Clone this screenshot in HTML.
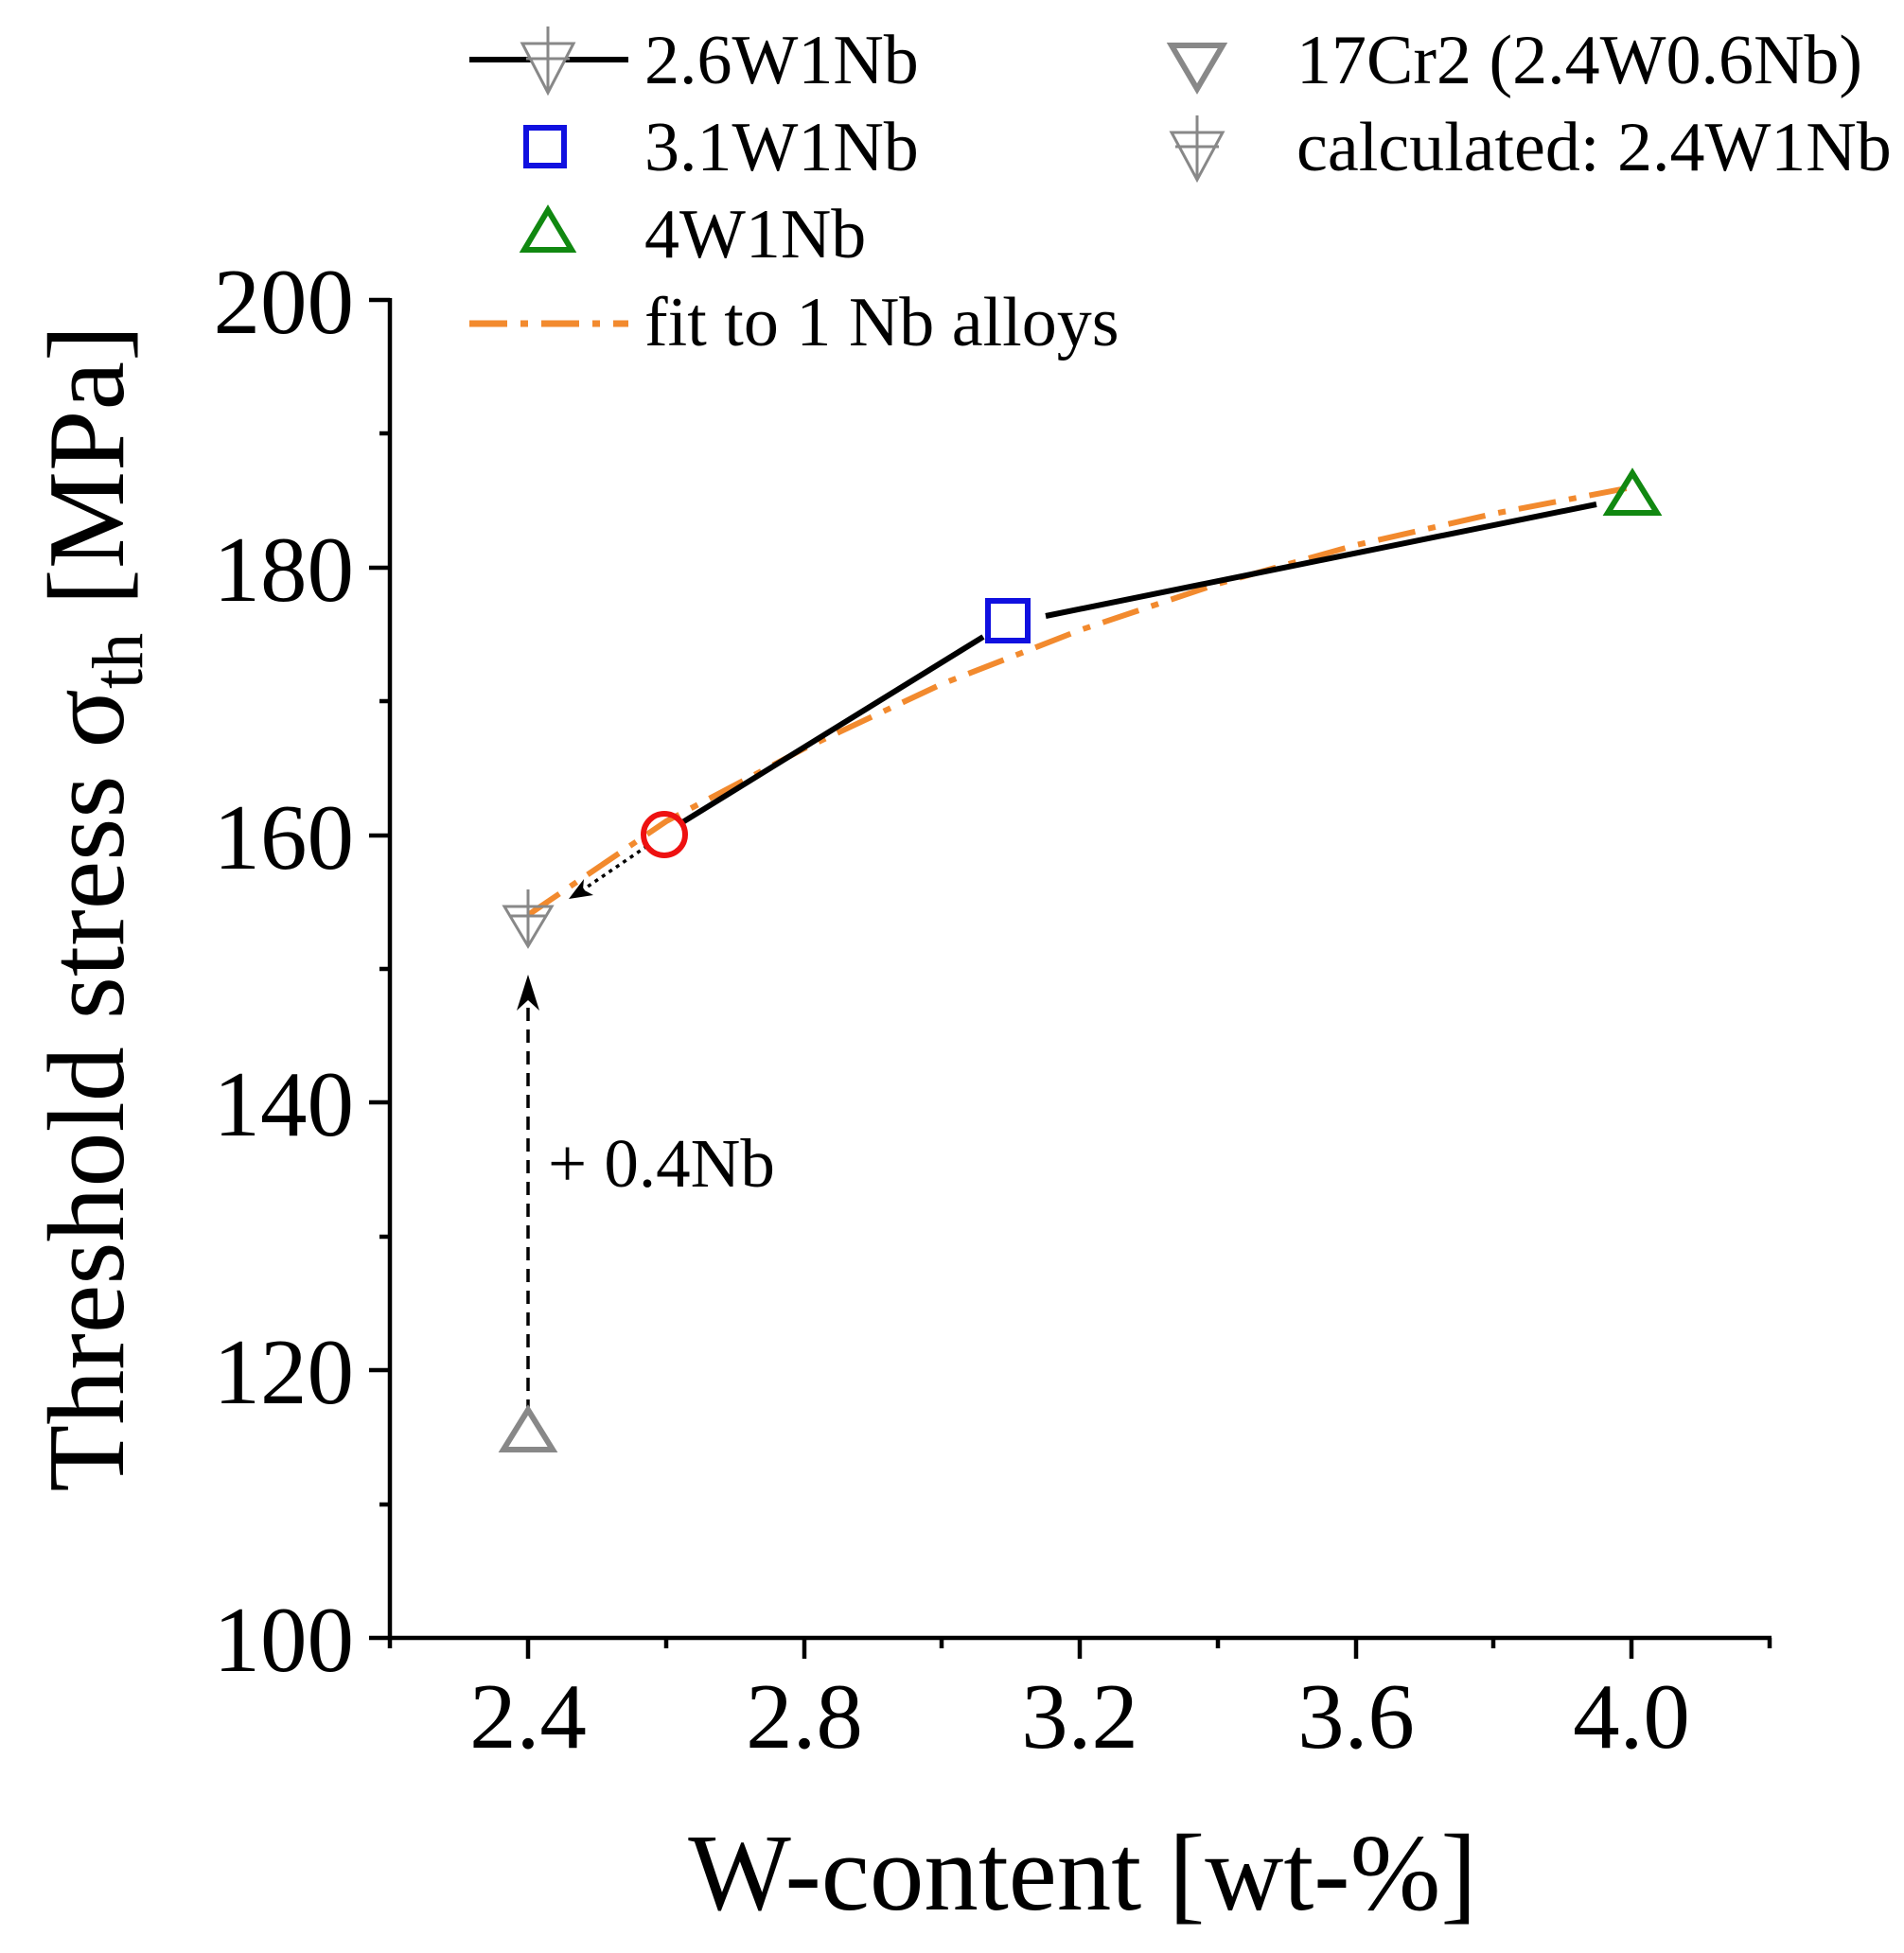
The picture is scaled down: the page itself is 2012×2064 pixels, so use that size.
<!DOCTYPE html>
<html><head><style>
html,body{margin:0;padding:0;background:#fff;}
svg{display:block;}
text{font-family:"Liberation Serif",serif;fill:#000;}
</style></head><body>
<svg width="2012" height="2064" viewBox="0 0 2012 2064" xmlns="http://www.w3.org/2000/svg">
<g stroke="#000" stroke-width="4.5" fill="none">
<line x1="412" y1="315" x2="412" y2="1733"/>
<line x1="410" y1="1731" x2="1872" y2="1731"/>
<line x1="390" y1="317" x2="412" y2="317"/>
<line x1="390" y1="600" x2="412" y2="600"/>
<line x1="390" y1="883" x2="412" y2="883"/>
<line x1="390" y1="1165" x2="412" y2="1165"/>
<line x1="390" y1="1448" x2="412" y2="1448"/>
<line x1="390" y1="1731" x2="412" y2="1731"/>
<line x1="401" y1="458" x2="412" y2="458"/>
<line x1="401" y1="741" x2="412" y2="741"/>
<line x1="401" y1="1024" x2="412" y2="1024"/>
<line x1="401" y1="1307" x2="412" y2="1307"/>
<line x1="401" y1="1590" x2="412" y2="1590"/>
<line x1="558" y1="1731" x2="558" y2="1753"/>
<line x1="850" y1="1731" x2="850" y2="1753"/>
<line x1="1141" y1="1731" x2="1141" y2="1753"/>
<line x1="1433" y1="1731" x2="1433" y2="1753"/>
<line x1="1724" y1="1731" x2="1724" y2="1753"/>
<line x1="412" y1="1731" x2="412" y2="1742"/>
<line x1="704" y1="1731" x2="704" y2="1742"/>
<line x1="995" y1="1731" x2="995" y2="1742"/>
<line x1="1287" y1="1731" x2="1287" y2="1742"/>
<line x1="1578" y1="1731" x2="1578" y2="1742"/>
<line x1="1870" y1="1731" x2="1870" y2="1742"/>
</g>
<g font-size="99" text-anchor="end">
<text x="374" y="352">200</text>
<text x="374" y="635">180</text>
<text x="374" y="918">160</text>
<text x="374" y="1200">140</text>
<text x="374" y="1483">120</text>
<text x="374" y="1766">100</text>
</g>
<g font-size="99" text-anchor="middle">
<text x="558" y="1847">2.4</text>
<text x="850" y="1847">2.8</text>
<text x="1141" y="1847">3.2</text>
<text x="1433" y="1847">3.6</text>
<text x="1724" y="1847">4.0</text>
</g>
<text x="1144" y="2018" font-size="115" text-anchor="middle">W-content [wt-%]</text>
<text transform="translate(130,960) rotate(-90)" font-size="116" text-anchor="middle">Threshold stress σ<tspan font-size="76" dy="20">th</tspan><tspan dy="-20"> [MPa]</tspan></text>

<polyline fill="none" stroke="#f28a2e" stroke-width="6" stroke-dasharray="40,14,8,14" points="558,967 704,868 850,791 995,723 1141,666 1287,617 1433,576 1578,543 1724,515"/>
<g stroke="#000" stroke-width="6" fill="none">
<line x1="718" y1="871" x2="1039" y2="673"/>
<line x1="1105" y1="651" x2="1687" y2="533"/>
</g>
<line x1="558" y1="1493" x2="558" y2="1050" stroke="#000" stroke-width="3.5" stroke-dasharray="14,9"/>
<polygon points="558,1030 546,1068 558,1057 570,1068" fill="#000"/>
<line x1="684" y1="894" x2="615" y2="941" stroke="#000" stroke-width="3.5" stroke-dasharray="4,5"/>
<polygon points="601,950 617,929 616,940 627,946" fill="#000"/>
<text x="579" y="1254" font-size="73">+ 0.4Nb</text>

<circle cx="702" cy="882" r="22" fill="none" stroke="#ee1111" stroke-width="6"/>
<rect x="1044" y="635" width="42" height="42" fill="none" stroke="#1010e0" stroke-width="6"/>
<polygon points="1725,500 1751,542 1699,542" fill="none" stroke="#118811" stroke-width="6"/>
<polygon points="558,1490 584,1532 532,1532" fill="none" stroke="#888" stroke-width="6"/>
<g stroke="#888" stroke-width="3" fill="none">
<polygon points="533,958 583,958 558,1000"/>
<line x1="558" y1="940" x2="558" y2="1000"/>
<line x1="540" y1="968" x2="576" y2="968"/>
</g>

<g font-size="74">
<line x1="496" y1="63" x2="664" y2="63" stroke="#000" stroke-width="6"/>
<g stroke="#888" stroke-width="3" fill="#fff">
<polygon points="552,46 606,46 579,98"/>
<line x1="579" y1="28" x2="579" y2="98"/>
<line x1="556" y1="62" x2="602" y2="62"/>
</g>
<text x="681" y="88">2.6W1Nb</text>
<rect x="556" y="135" width="40" height="40" fill="none" stroke="#1010e0" stroke-width="6"/>
<text x="681" y="180">3.1W1Nb</text>
<polygon points="579,222 604,264 554,264" fill="none" stroke="#118811" stroke-width="6"/>
<text x="681" y="272">4W1Nb</text>
<line x1="496" y1="342" x2="664" y2="342" stroke="#f28a2e" stroke-width="7" stroke-dasharray="40,14,8,14"/>
<text x="681" y="365">fit to 1 Nb alloys</text>
<polygon points="1238,48 1292,48 1265,94" fill="none" stroke="#888" stroke-width="6"/>
<text x="1370" y="88">17Cr2 (2.4W0.6Nb)</text>
<g stroke="#888" stroke-width="3" fill="none">
<polygon points="1238,140 1292,140 1265,190"/>
<line x1="1265" y1="122" x2="1265" y2="190"/>
<line x1="1242" y1="155" x2="1288" y2="155"/>
</g>
<text x="1370" y="180">calculated: 2.4W1Nb</text>
</g>
</svg>
</body></html>
